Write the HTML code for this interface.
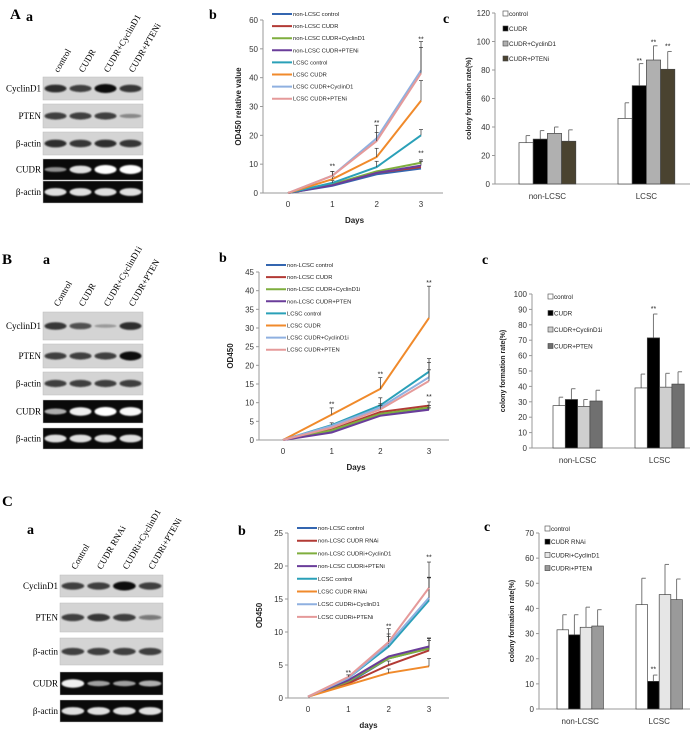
<!DOCTYPE html>
<html><head><meta charset="utf-8"><style>
html,body{margin:0;padding:0;background:#fff;}
svg{display:block;font-family:"Liberation Sans",sans-serif;}
.pl{font-family:"Liberation Serif",serif;font-weight:bold;}
.bl{font-family:"Liberation Serif",serif;font-size:9px;}
</style></head><body>
<svg id="fig" width="700" height="742" viewBox="0 0 700 742" xmlns="http://www.w3.org/2000/svg">
<defs><filter id="blur" x="-20%" y="-50%" width="140%" height="200%"><feGaussianBlur stdDeviation="0.7"/></filter></defs>
<text class="pl" x="10" y="19" font-size="15">A</text>
<text class="pl" x="26" y="21" font-size="14">a</text>
<text class="pl" x="209" y="19" font-size="14">b</text>
<text class="pl" x="443" y="23" font-size="14">c</text>
<text class="pl" x="2" y="264" font-size="15">B</text>
<text class="pl" x="43" y="264" font-size="14">a</text>
<text class="pl" x="219" y="262" font-size="14">b</text>
<text class="pl" x="482" y="264" font-size="14">c</text>
<text class="pl" x="2" y="506" font-size="15">C</text>
<text class="pl" x="27" y="534" font-size="14">a</text>
<text class="pl" x="238" y="535" font-size="14">b</text>
<text class="pl" x="484" y="531" font-size="14">c</text>
</svg>
<script>
// ---------- DATA ----------
const days = [0, 1, 2, 3];
const seriesColors = ["#3466b0","#b23a35","#7fae3e","#6a3d9a","#2aa0b8","#f08a2b","#8fb0e0","#e59a9a"];

const aLineNames = ["non-LCSC control","non-LCSC CUDR","non-LCSC CUDR+CyclinD1","non-LCSC CUDR+PTENi","LCSC control","LCSC CUDR","LCSC CUDR+CyclinD1","LCSC CUDR+PTENi"];
const aLineVals = [[0,2.5,6.5,8.5],[0,2.8,7,9],[0,3,7.5,10.5],[0,2.7,7,9.5],[0,3.5,9,20],[0,4.8,12.5,32],[0,6,19,42.5],[0,6,18,41.5]];
const aLineErr = [[0,0,0,0],[0,0,0,0],[0,0,0,1],[0,0,0,1.5],[0,0.8,2,2],[0,1,3,7],[0,1.5,4.5,10],[0,1.5,3,9]];
const aTicks = [0,10,20,30,40,50,60];

const bLineNames = ["non-LCSC control","non-LCSC CUDR","non-LCSC CUDR+CyclinD1i","non-LCSC CUDR+PTEN","LCSC control","LCSC CUDR","LCSC CUDR+CyclinD1i","LCSC CUDR+PTEN"];
const bLineVals = [[0,2.5,7,8.5],[0,2.8,7.5,9.2],[0,2.6,7,8.7],[0,2,6.5,8.1],[0,4,9.3,18.3],[0,6.8,13.7,32.7],[0,3.8,8.7,16.8],[0,3.3,8.2,15.8]];
const bLineErr = [[0,0,0,0],[0,0,0,1],[0,0,0,0.5],[0,0,0,0.5],[0,0.6,2,3.5],[0,1.8,3,8.5],[0,0,1,4],[0,0,1,3]];
const bTicks = [0,5,10,15,20,25,30,35,40,45];

const cLineNames = ["non-LCSC control","non-LCSC CUDR RNAi","non-LCSC CUDRi+CyclinD1","non-LCSC CUDRi+PTENi","LCSC control","LCSC CUDR RNAi","LCSC CUDRi+CyclinD1","LCSC CUDRi+PTENi"];
const cLineVals = [[0.2,2.3,6,7.5],[0.2,2.2,5,7.2],[0.2,2.5,6,7.5],[0.2,2.7,6.3,7.8],[0.2,3,7.8,14.8],[0.2,2,3.8,4.8],[0.2,3,8.2,15.2],[0.2,3.2,8.5,16.7]];
const cLineErr = [[0,0,0,0],[0,0,0.6,1.5],[0,0,0,1.5],[0,0,0,1.3],[0,0,1.5,3.5],[0,0,0.6,1.2],[0,0,1.5,3],[0,0.3,2,3.9]];
const cTicks = [0,5,10,15,20,25];

const barGroups = ["non-LCSC","LCSC"];
const aBarNames = ["control","CUDR","CUDR+CyclinD1","CUDR+PTENi"];
const aBarVals = [[29,31.5,35.5,30],[46,69,87,80.5]];
const aBarErr = [[34,37.5,40,38],[57,84.5,97,93]];
const aBarTicks = [0,20,40,60,80,100,120];

const bBarNames = ["control","CUDR","CUDR+CyclinD1i","CUDR+PTEN"];
const bBarVals = [[27.5,31.5,27,30.5],[39,71.5,39.5,41.5]];
const bBarErr = [[33,38.5,31.5,37.5],[48,87,48.5,49.5]];
const bBarTicks = [0,10,20,30,40,50,60,70,80,90,100];

const cBarNames = ["control","CUDR RNAi","CUDRi+CyclinD1","CUDRi+PTENi"];
const cBarVals = [[31.5,29.5,32.5,33],[41.5,11,45.5,43.5]];
const cBarErr = [[37.5,37.5,40.5,39.5],[52,13.5,57.5,51.7]];
const cBarTicks = [0,10,20,30,40,50,60,70];

const aLanes = ["control","CUDR","CUDR+CyclinD1","CUDR+PTENi"];
const bLanes = ["Control","CUDR","CUDR+CyclinD1i","CUDR+PTEN"];
const cLanes = ["Control","CUDR RNAi","CUDRi+CyclinD1","CUDRi+PTENi"];
const rowNames = ["CyclinD1","PTEN","β-actin","CUDR","β-actin"];
const aBands = [[0.8,0.7,1,0.75],[0.7,0.7,0.7,0.2],[0.8,0.75,0.8,0.75],[0.3,0.8,1,1],[0.8,0.8,0.8,0.8]];
const bBands = [[0.75,0.6,0.1,0.8],[0.7,0.7,0.7,1],[0.7,0.7,0.7,0.7],[0.5,0.9,1,0.95],[0.8,0.8,0.8,0.8]];
const cBands = [[0.7,0.7,1,0.7],[0.7,0.75,0.7,0.35],[0.7,0.7,0.7,0.7],[0.9,0.4,0.4,0.5],[0.8,0.8,0.8,0.8]];

// ---------- DRAWING ----------
const NS = "http://www.w3.org/2000/svg";
const svg = document.getElementById("fig");
function mk(tag, attrs, parent, text) {
  const e = document.createElementNS(NS, tag);
  for (const k in attrs) e.setAttribute(k, attrs[k]);
  if (text !== undefined) e.textContent = text;
  (parent || svg).appendChild(e);
  return e;
}

function lineChart(cfg, names, vals, errs, ticks, stars) {
  const g = mk("g", {});
  
  
  const yMax = ticks[ticks.length - 1];
  const ys = v => cfg.y0 - v / yMax * (cfg.y0 - cfg.yTop);
  const xs = d => cfg.xd0 + d * (cfg.xd3 - cfg.xd0) / 3;
  mk("line", {x1: cfg.ax, y1: cfg.yTop, x2: cfg.ax, y2: cfg.y0, stroke: "#999", "stroke-width": 1}, g);
  mk("line", {x1: cfg.ax, y1: cfg.y0, x2: cfg.xr, y2: cfg.y0, stroke: "#999", "stroke-width": 1}, g);
  ticks.forEach(t => {
    mk("line", {x1: cfg.ax - 3, y1: ys(t), x2: cfg.ax, y2: ys(t), stroke: "#999"}, g);
    const tl = mk("text", {x: cfg.ax - 5, y: ys(t) + 3, "font-size": 8, "text-anchor": "end", fill: "#333"}, g, String(t));
    
    
  });
  days.forEach(d => {
    const tl = mk("text", {x: xs(d), y: cfg.y0 + 14, "font-size": 8, "text-anchor": "middle", fill: "#333"}, g, String(d));
    
    
  });
  const xt = mk("text", {x: (cfg.xd0 + cfg.xd3) / 2, y: cfg.y0 + 30, "font-size": 8, "font-weight": "bold", "text-anchor": "middle", fill: "#222"}, g, cfg.xTitle);
  
  
  const yt = mk("text", {x: 0, y: 0, "font-size": 8, "font-weight": "bold", "text-anchor": "middle", fill: "#222", transform: `translate(${cfg.ytx},${(cfg.yTop + cfg.y0) / 2}) rotate(-90)`}, g, cfg.yTitle);
  
  
  vals.forEach((s, i) => {
    const pts = s.map((v, d) => xs(days[d]) + "," + ys(v)).join(" ");
    const pl = mk("polyline", {points: pts, fill: "none", stroke: seriesColors[i], "stroke-width": 2}, g);
    
    
    s.forEach((v, d) => {
      const e = errs[i][d];
      if (e > 0) {
        const x = xs(days[d]);
        mk("line", {x1: x, y1: ys(v), x2: x, y2: ys(v + e), stroke: "#333", "stroke-width": 0.7}, g);
        mk("line", {x1: x - 2, y1: ys(v + e), x2: x + 2, y2: ys(v + e), stroke: "#333", "stroke-width": 0.7}, g);
      }
    });
  });
  stars.forEach(st => {
    const s = mk("text", {x: xs(st[0]), y: ys(st[1]), "font-size": 7, "text-anchor": "middle", fill: "#222"}, g, "**");
    
    
  });
  names.forEach((n, i) => {
    const y = cfg.legY + i * cfg.legStep;
    const le = mk("g", {}, g);
    
    
    mk("line", {x1: cfg.legX, y1: y, x2: cfg.legX + 20, y2: y, stroke: seriesColors[i], "stroke-width": 2}, le);
    mk("text", {x: cfg.legX + 21, y: y + 2, "font-size": 5.8, fill: "#222"}, le, n);
  });
}

function barChart(cfg, names, vals, errs, ticks, colors, stars) {
  const g = mk("g", {});
  
  
  const yMax = ticks[ticks.length - 1];
  const ys = v => cfg.y0 - v / yMax * (cfg.y0 - cfg.yTop);
  mk("line", {x1: cfg.ax, y1: cfg.yTop, x2: cfg.ax, y2: cfg.y0, stroke: "#999"}, g);
  mk("line", {x1: cfg.ax, y1: cfg.y0, x2: cfg.xr, y2: cfg.y0, stroke: "#999"}, g);
  ticks.forEach(t => {
    mk("line", {x1: cfg.ax - 3, y1: ys(t), x2: cfg.ax, y2: ys(t), stroke: "#999"}, g);
    const tl = mk("text", {x: cfg.ax - 5, y: ys(t) + 3, "font-size": 8, "text-anchor": "end", fill: "#333"}, g, String(t));
    
    
  });
  const yt = mk("text", {x: 0, y: 0, "font-size": 7, "font-weight": "bold", "text-anchor": "middle", fill: "#222", transform: `translate(${cfg.ytx},${(cfg.yTop + cfg.y0) / 2}) rotate(-90)`}, g, "colony formation rate(%)");
  
  
  barGroups.forEach((grp, gi) => {
    const gx = cfg.groupX[gi];
    const cl = mk("text", {x: gx + cfg.bw * 2, y: cfg.y0 + 15, "font-size": 8, "text-anchor": "middle", fill: "#333"}, g, grp);
    
    
    vals[gi].forEach((v, bi) => {
      const x = gx + bi * cfg.bw;
      const cx = x + cfg.bw / 2;
      mk("line", {x1: cx, y1: ys(v), x2: cx, y2: ys(errs[gi][bi]), stroke: "#777", "stroke-width": 1}, g);
      mk("line", {x1: cx, y1: ys(errs[gi][bi]), x2: cx + 4, y2: ys(errs[gi][bi]), stroke: "#777", "stroke-width": 1}, g);
      const r = mk("rect", {x: x, y: ys(v), width: cfg.bw, height: cfg.y0 - ys(v), fill: colors[bi], stroke: "#444", "stroke-width": 0.7}, g);
      
      
    });
  });
  stars.forEach(st => {
    const gi = st[0], bi = st[1];
    const s = mk("text", {x: cfg.groupX[gi] + bi * cfg.bw + cfg.bw / 2, y: ys(st[2]), "font-size": 7, "text-anchor": "middle", fill: "#222"}, g, "**");
    
    
  });
  names.forEach((n, i) => {
    const y = cfg.legY + i * cfg.legStep;
    const le = mk("g", {}, g);
    
    
    mk("rect", {x: cfg.legX, y: y - 5, width: 5, height: 5, fill: colors[i], stroke: "#444", "stroke-width": 0.6}, le);
    mk("text", {x: cfg.legX + 6, y: y, "font-size": 6.3, fill: "#222"}, le, n);
  });
}

function blot(cfg, lanes, bands) {
  const g = mk("g", {});
  
  
  const lw = (cfg.x1 - cfg.x0) / 4;
  lanes.forEach((l, i) => {
    const cx = cfg.x0 + lw * (i + 0.5);
    const t = mk("text", {class: "bl", x: 0, y: 0, transform: `translate(${cx + 3},${cfg.labY}) rotate(-60)`, "font-size": 10}, g, l);
    
    
  });
  cfg.rows.forEach((row, ri) => {
    const dark = ri >= 3;
    const [y0, y1] = row;
    mk("rect", {x: cfg.x0, y: y0, width: cfg.x1 - cfg.x0, height: y1 - y0, fill: dark ? "#0a0a0a" : "#d4d4d4", stroke: "#bbb", "stroke-width": 0.5}, g);
    const rl = mk("text", {class: "bl", x: cfg.x0 - 2, y: (y0 + y1) / 2 + 3, "text-anchor": "end", "font-size": 9.5}, g, rowNames[ri]);
    
    
    bands[ri].forEach((b, li) => {
      const cx = cfg.x0 + lw * (li + 0.5);
      const h = 3 + b * 6;
      const col = dark ? `rgba(255,255,255,${0.35 + 0.65 * b})` : `rgba(15,15,15,${0.2 + 0.8 * b})`;
      const e = mk("ellipse", {cx: cx, cy: (y0 + y1) / 2, rx: lw * 0.44, ry: h / 2, fill: col, filter: "url(#blur)"}, g);
      
      
    });
  });
}

blot({name: "blot-A", x0: 43, x1: 143, labY: 73, rows: [[77,100],[104,128],[132,155],[159,180],[181,203]]}, aLanes, aBands);
blot({name: "blot-B", x0: 43, x1: 143, labY: 307, rows: [[312,340],[344,368],[372,395],[400,423],[428,449]]}, bLanes, bBands);
blot({name: "blot-C", x0: 60, x1: 163, labY: 570, rows: [[575,597],[603,632],[638,665],[672,695],[700,722]]}, cLanes, cBands);

lineChart({name: "line-chart-A", ax: 263, yTop: 20, y0: 193, xd0: 288, xd3: 421, xr: 443, ytx: 241, xTitle: "Days", yTitle: "OD450 relative value", legX: 272, legY: 14, legStep: 12.1}, aLineNames, aLineVals, aLineErr, aTicks, [[1,8.5],[2,23.5],[3,52.5],[3,13]]);
lineChart({name: "line-chart-B", ax: 259, yTop: 272, y0: 440, xd0: 283, xd3: 429, xr: 449, ytx: 233, xTitle: "Days", yTitle: "OD450", legX: 266, legY: 265, legStep: 12.1}, bLineNames, bLineVals, bLineErr, bTicks, [[1,9],[2,17],[3,41.5],[3,11]]);
lineChart({name: "line-chart-C", ax: 288, yTop: 533, y0: 698, xd0: 308, xd3: 429, xr: 449, ytx: 262, xTitle: "days", yTitle: "OD450", legX: 297, legY: 528, legStep: 12.7}, cLineNames, cLineVals, cLineErr, cTicks, [[1,3.5],[2,10.5],[3,21]]);

barChart({name: "bar-chart-A", ax: 495, yTop: 13, y0: 184, xr: 690, ytx: 471, groupX: [519, 618], bw: 14.2, legX: 503, legY: 16, legStep: 15}, aBarNames, aBarVals, aBarErr, aBarTicks, ["#fff","#000","#b0b0b0","#4a4330"], [[1,1,85],[1,2,98],[1,3,95]]);
barChart({name: "bar-chart-B", ax: 532, yTop: 294, y0: 448, xr: 690, ytx: 505, groupX: [553, 635], bw: 12.3, legX: 548, legY: 299, legStep: 16.5}, bBarNames, bBarVals, bBarErr, bBarTicks, ["#fff","#000","#cfcfcf","#707070"], [[1,1,89]]);
barChart({name: "bar-chart-C", ax: 539, yTop: 533, y0: 709, xr: 690, ytx: 514, groupX: [557, 636], bw: 11.6, legX: 545, legY: 531, legStep: 13.2}, cBarNames, cBarVals, cBarErr, cBarTicks, ["#fff","#000","#e6e6e6","#9a9a9a"], [[1,1,15]]);
</script>
</body></html>
